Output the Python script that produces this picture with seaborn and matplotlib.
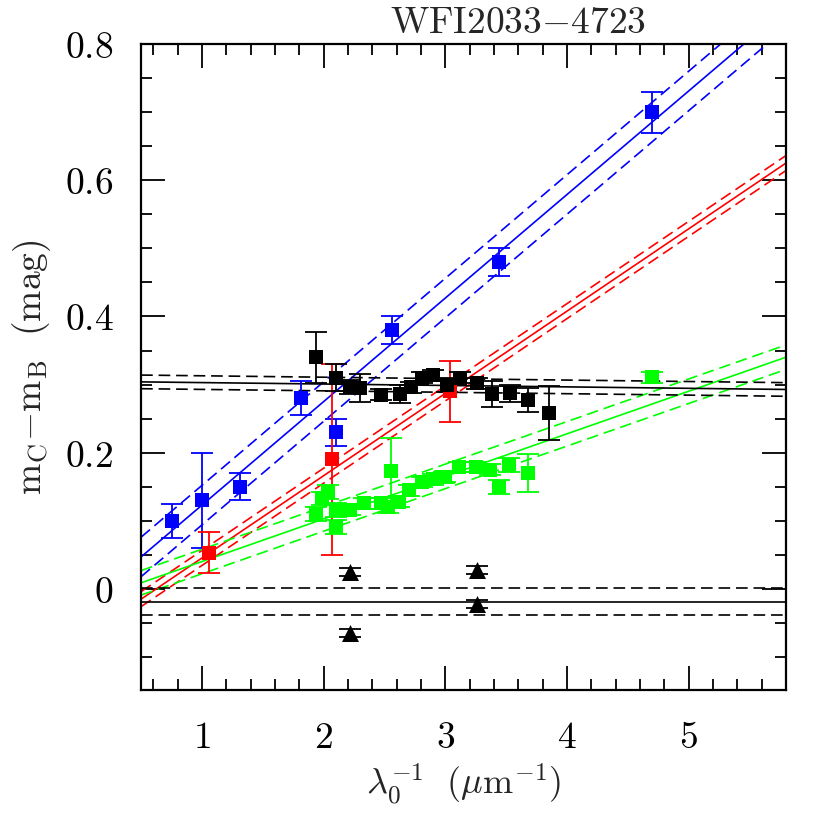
"""Colour difference m_C - m_B versus inverse wavelength for WFI2033-4723."""

import matplotlib

matplotlib.use("Agg")
import matplotlib.pyplot as plt
from matplotlib.ticker import FuncFormatter, MultipleLocator
import pandas as pd
import seaborn as sns


# Blue squares
BLUE_X = [0.75, 1.00, 1.31, 1.81, 2.10, 2.56, 3.44, 4.70]
BLUE_Y = [0.100, 0.130, 0.150, 0.280, 0.230, 0.380, 0.480, 0.700]
BLUE_ERR = [0.025, 0.070, 0.020, 0.025, 0.020, 0.020, 0.020, 0.030]

# Red squares
RED_X = [1.06, 2.07, 3.04]
RED_Y = [0.053, 0.190, 0.290]
RED_ERR = [0.030, 0.140, 0.045]

# Black squares
BLACK_X = [1.94, 2.10, 2.22, 2.30, 2.47, 2.63, 2.72, 2.81, 2.90,
           3.01, 3.12, 3.26, 3.38, 3.53, 3.68, 3.85]
BLACK_Y = [0.340, 0.310, 0.296, 0.295, 0.285, 0.286, 0.296, 0.310, 0.314,
           0.299, 0.310, 0.302, 0.286, 0.287, 0.277, 0.258]
BLACK_ERR = [0.037, 0.020, 0.010, 0.020, 0.008, 0.013, 0.008, 0.008, 0.008,
             0.010, 0.008, 0.008, 0.019, 0.012, 0.018, 0.040]

# Green squares
GREEN_X = [1.94, 1.99, 2.04, 2.10, 2.10, 2.22, 2.33, 2.47, 2.53, 2.55,
           2.62, 2.70, 2.81, 2.90, 2.99, 3.00, 3.11, 3.25, 3.37, 3.44,
           3.52, 3.68, 4.70]
GREEN_Y = [0.110, 0.133, 0.142, 0.116, 0.091, 0.116, 0.126, 0.126, 0.120, 0.173,
           0.128, 0.145, 0.157, 0.161, 0.164, 0.165, 0.179, 0.179, 0.175, 0.150,
           0.182, 0.170, 0.311]
GREEN_ERR = [0.010, 0.010, 0.010, 0.010, 0.010, 0.008, 0.008, 0.008, 0.008, 0.048,
             0.008, 0.008, 0.008, 0.008, 0.008, 0.008, 0.008, 0.008, 0.008, 0.010,
             0.010, 0.028, 0.008]

# Black triangles
TRI_X = [2.22, 3.26, 3.26, 2.22]
TRI_Y = [0.025, 0.028, -0.022, -0.065]
TRI_ERR = [0.006, 0.006, 0.006, 0.006]

# Fitted lines: (intercept, slope, half-width of the dashed band)
FITS = {
    "blue": (-0.029, 0.152, 0.029),
    "red": (-0.0754, 0.1208, 0.011),
    "lime": (-0.0223, 0.0625, 0.018),
    "black": (0.305, -0.0021, 0.010),
}
TRI_LEVEL = -0.019
TRI_BAND = 0.020


def build_points():
    frames = []
    for name, xs, ys, errs, marker in [
        ("blue", BLUE_X, BLUE_Y, BLUE_ERR, "s"),
        ("red", RED_X, RED_Y, RED_ERR, "s"),
        ("black", BLACK_X, BLACK_Y, BLACK_ERR, "s"),
        ("lime", GREEN_X, GREEN_Y, GREEN_ERR, "s"),
        ("tri", TRI_X, TRI_Y, TRI_ERR, "^"),
    ]:
        frames.append(pd.DataFrame({"x": xs, "y": ys, "err": errs,
                                    "group": name, "marker": marker}))
    return pd.concat(frames, ignore_index=True)


def main():
    sns.set_theme(style="ticks")
    plt.rcParams["mathtext.fontset"] = "cm"
    plt.rcParams["font.family"] = ["DejaVu Serif"]

    df = build_points()
    colors = {"blue": "#0000ff", "red": "#ff0000", "black": "black",
              "lime": "#00ff00", "tri": "black"}

    fig = plt.figure(figsize=(8.3, 8.3), dpi=100)
    ax = fig.add_axes([0.170, 0.169, 0.777, 0.778])

    # fit lines
    dash = (7, 3.5)
    for name, (b, m, w) in FITS.items():
        c = colors[name]
        ax.axline((0, b), slope=m, color=c, lw=1.2)
        ax.axline((0, b + w), slope=m, color=c, lw=1.2, ls=(0, dash))
        ax.axline((0, b - w), slope=m, color=c, lw=1.2, ls=(0, dash))
    ax.axhline(TRI_LEVEL, color="black", lw=1.2)
    ax.axhline(TRI_LEVEL + TRI_BAND, color="black", lw=1.2, ls=(0, dash))
    ax.axhline(TRI_LEVEL - TRI_BAND, color="black", lw=1.2, ls=(0, dash))

    # error bars and markers
    for name, sub in df.groupby("group", sort=False):
        ax.errorbar(sub["x"], sub["y"], yerr=sub["err"], fmt="none",
                    ecolor=colors[name], elinewidth=1.3, capsize=8,
                    capthick=1.3, zorder=3)
        sns.scatterplot(data=sub, x="x", y="y", ax=ax, color=colors[name],
                        marker=sub["marker"].iloc[0],
                        s=150 if name == "tri" else 100,
                        linewidth=0, zorder=4, legend=False)

    ax.set_xlim(0.5, 5.8)
    ax.set_ylim(-0.148, 0.8)
    ax.xaxis.set_major_locator(MultipleLocator(1))
    ax.xaxis.set_minor_locator(MultipleLocator(0.2))
    ax.yaxis.set_major_locator(MultipleLocator(0.2))
    ax.yaxis.set_minor_locator(MultipleLocator(0.05))

    def fmt(v, pos):
        if abs(v) < 1e-9:
            return r"$0$"
        return r"$%g$" % round(v, 2)

    ax.xaxis.set_major_formatter(FuncFormatter(fmt))
    ax.yaxis.set_major_formatter(FuncFormatter(fmt))
    ax.tick_params(which="both", direction="in", top=True, right=True,
                   width=1.3, colors="black", labelsize=27)
    ax.tick_params(which="major", length=17)
    ax.tick_params(which="minor", length=8)
    ax.tick_params(axis="x", which="major", pad=22)
    ax.tick_params(axis="y", which="major", pad=20)
    for s in ax.spines.values():
        s.set_linewidth(1.6)
        s.set_color("black")

    ax.set_xlabel(r"$\lambda_0^{-1}\ \ (\mu\mathrm{m}^{-1})$", fontsize=26,
                  labelpad=4)
    ax.set_ylabel(r"$\mathrm{m_C{-}m_B}\ \ \mathrm{(mag)}$", fontsize=27,
                  labelpad=8)
    fig.text(0.624, 0.972, r"$\mathrm{WFI2033{-}4723}$", fontsize=27,
             ha="center", va="center")

    fig.savefig("out.png", dpi=100)
    plt.close(fig)


if __name__ == "__main__":
    main()
